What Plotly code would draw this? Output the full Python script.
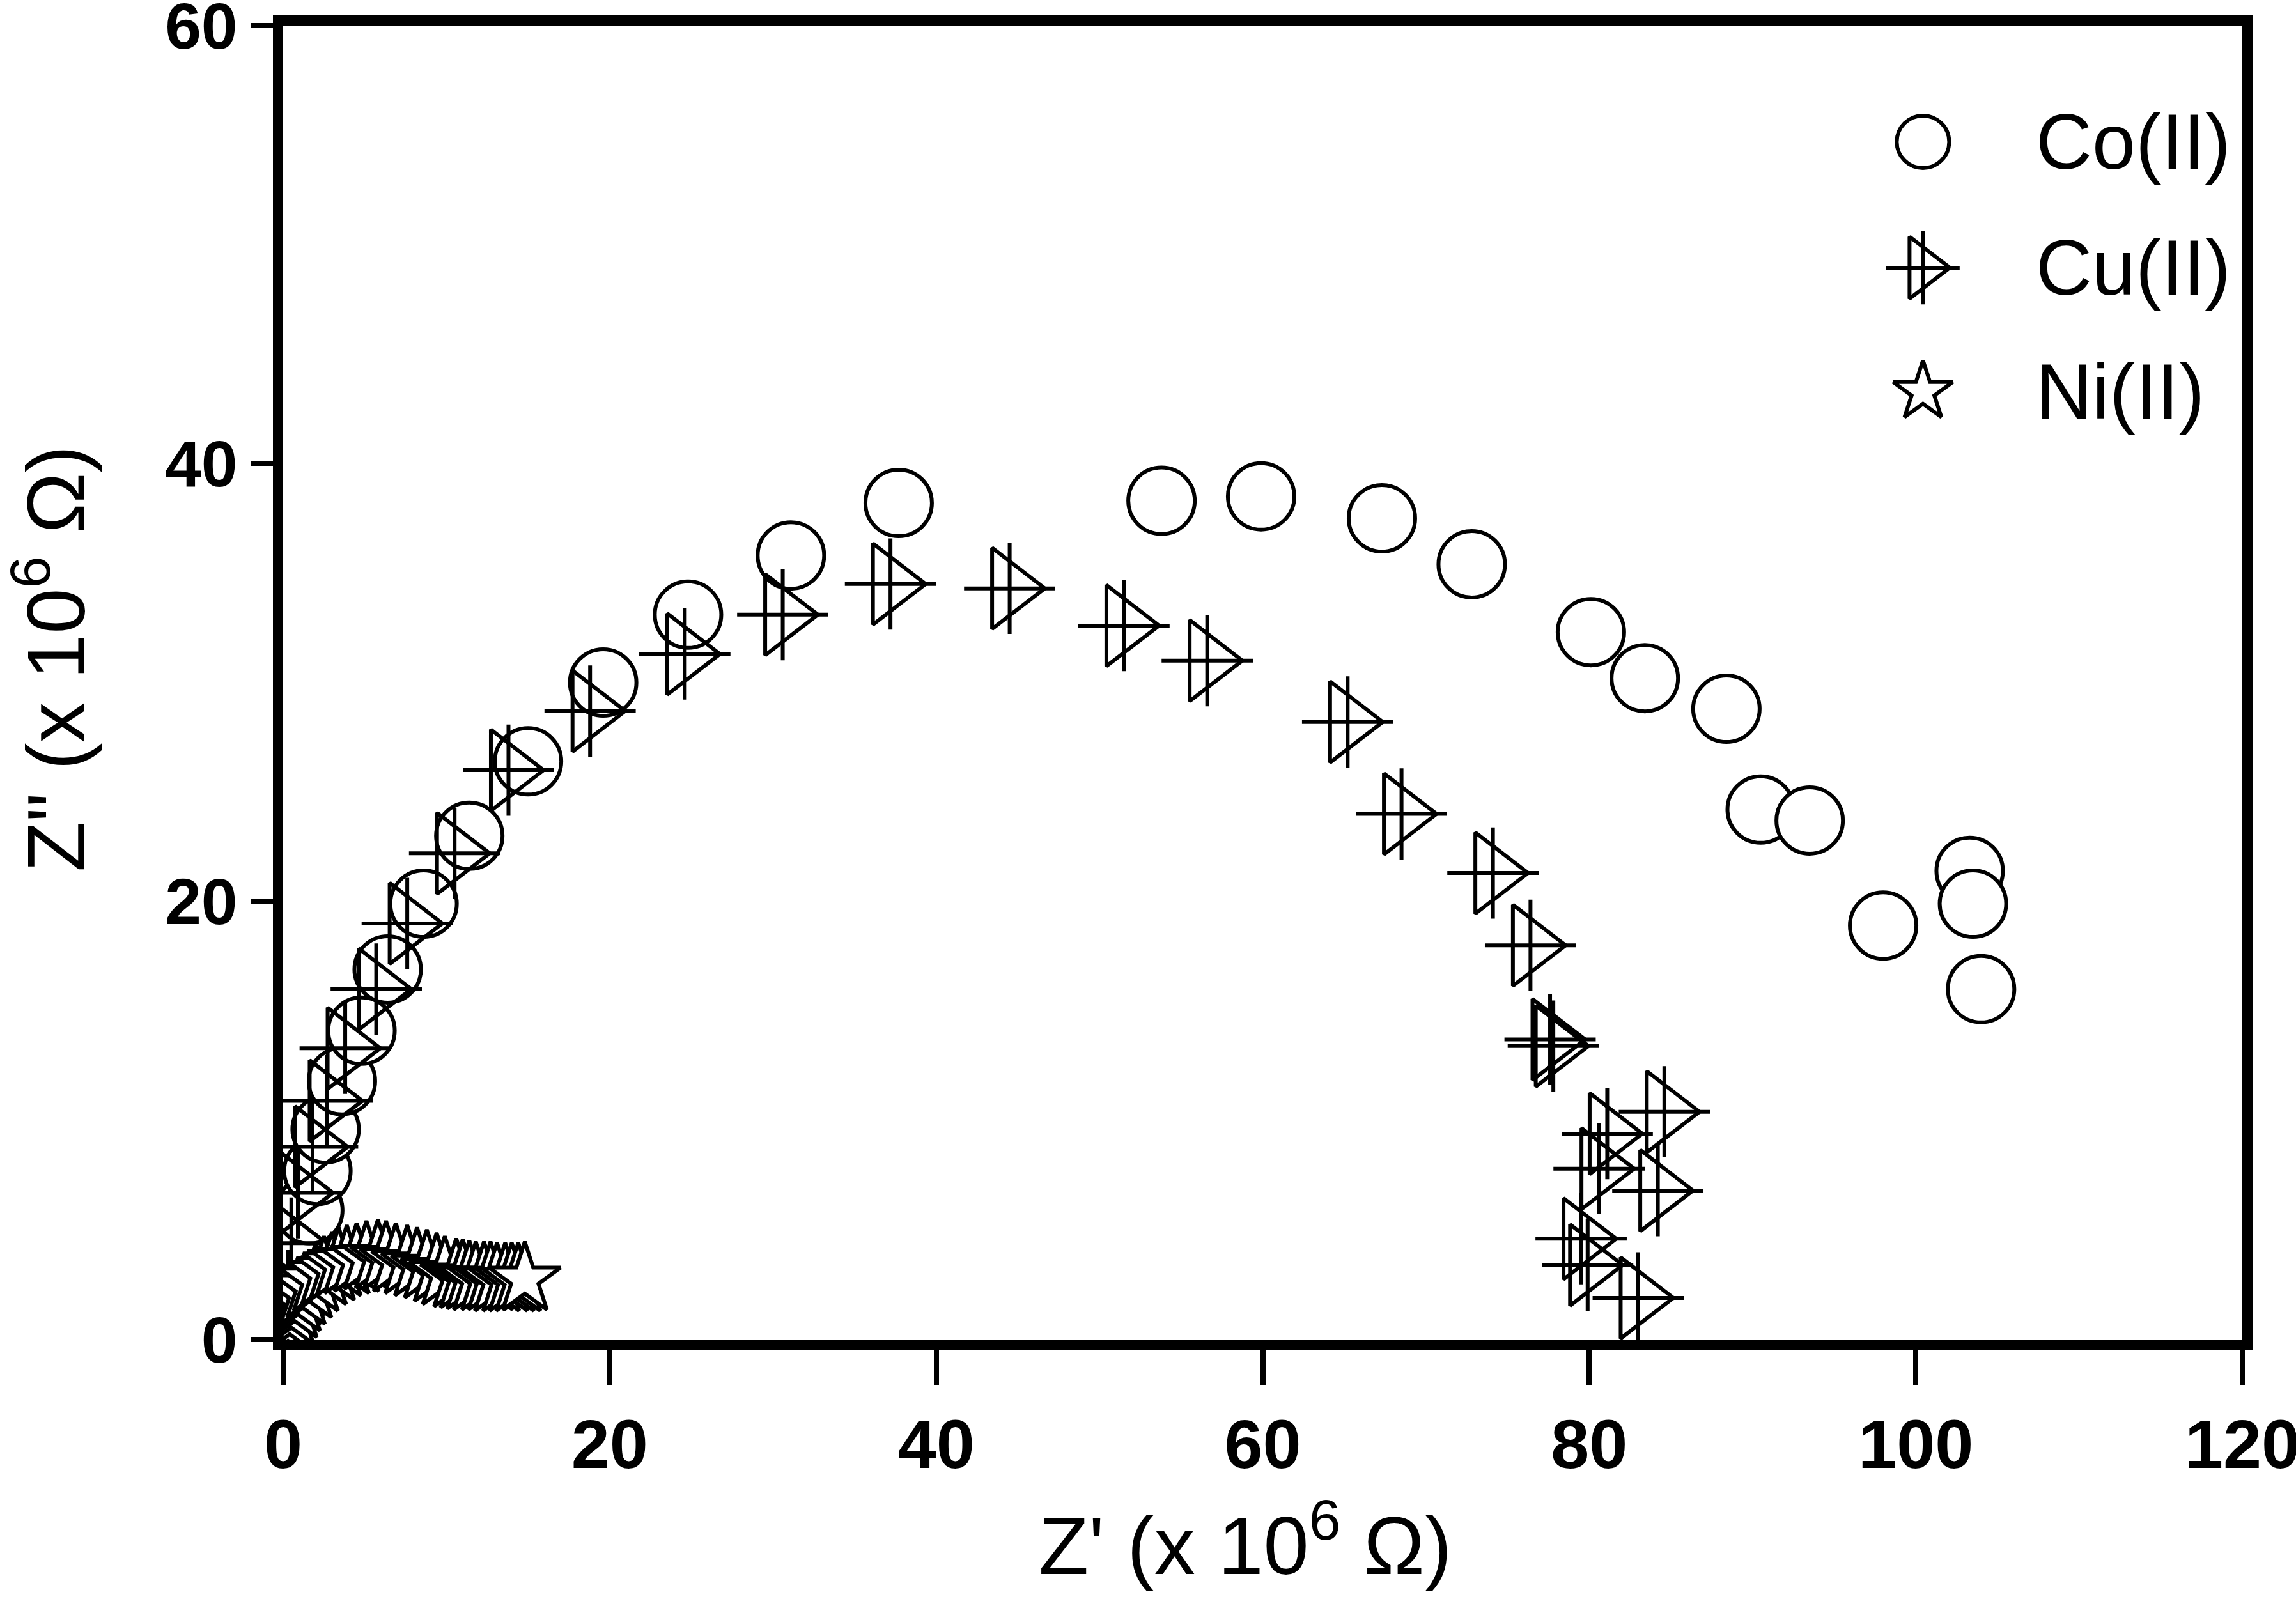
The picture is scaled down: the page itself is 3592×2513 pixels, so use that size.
import plotly.graph_objects as go

# ---- data (Z' , Z'' in 10^6 ohm) ----
co_x = [1.2, 1.6, 2.1, 2.6, 3.6, 4.8, 6.4, 8.6, 11.4, 15.0, 19.6, 24.8, 31.1, 37.7,
        53.8, 59.9, 67.3, 72.8, 80.1, 83.4, 88.4, 90.5, 93.5, 98.0, 103.3, 103.5, 104.0]
co_y = [4.4, 5.9, 7.7, 9.6, 11.8, 14.1, 16.9, 19.9, 23.0, 26.4, 30.0, 33.1, 35.8, 38.2,
        38.3, 38.5, 37.5, 35.4, 32.3, 30.2, 28.8, 24.2, 23.7, 18.9, 21.4, 19.9, 16.0]

cu_x = [0.3, 0.5, 0.9, 1.8, 2.7, 3.8, 5.7, 7.6, 10.5, 13.8, 18.8, 24.6, 30.6, 37.2,
        44.5, 51.5, 56.6, 65.2, 68.5, 74.1, 76.4, 77.6, 77.8, 81.1, 84.6, 80.6, 84.2,
        79.5, 79.9, 83.0]
cu_y = [2.0, 4.4, 6.7, 8.8, 10.9, 13.3, 16.0, 19.0, 22.2, 26.0, 28.7, 31.3, 33.1, 34.5,
        34.3, 32.6, 31.0, 28.2, 24.0, 21.3, 18.0, 13.7, 13.4, 9.4, 10.4, 7.8, 6.8,
        4.6, 3.4, 1.9]

ni_x = [0.2, 0.3, 0.4, 0.5, 0.7, 0.9, 1.2, 1.6, 2.0, 2.5, 3.0, 3.4, 3.9, 4.5, 5.1,
        5.8, 6.3, 6.9, 7.6, 8.2, 8.8, 9.4, 9.9, 10.6, 11.0, 11.4, 11.8, 12.3, 12.7,
        13.1, 13.6, 14.0, 14.4, 14.8]
ni_y = [0.3, 0.6, 0.9, 1.2, 1.5, 1.8, 2.1, 2.4, 2.7, 3.0, 3.2, 3.4, 3.5, 3.6, 3.7,
        3.75, 3.7, 3.6, 3.5, 3.4, 3.3, 3.15, 3.0, 2.9, 2.85, 2.8, 2.75, 2.75, 2.75,
        2.7, 2.7, 2.7, 2.7, 2.75]

series_names = ["Co(II)", "Cu(II)", "Ni(II)"]
x_ticks = [0, 20, 40, 60, 80, 100, 120]
y_ticks = [0, 20, 40, 60]

SANS = "Liberation Sans, Arial, sans-serif"
LW = 6

fig = go.Figure()

fig.add_trace(go.Scatter(x=co_x, y=co_y, mode="markers", name=series_names[0],
                         marker=dict(symbol="circle", size=104, color="white",
                                     line=dict(color="black", width=LW))))
fig.add_trace(go.Scatter(x=cu_x, y=cu_y, mode="markers", name=series_names[1],
                         marker=dict(symbol="triangle-right-open", size=110, color="black",
                                     line=dict(color="black", width=LW))))
fig.add_trace(go.Scatter(x=cu_x, y=cu_y, mode="markers", name=series_names[1], showlegend=False,
                         marker=dict(symbol="cross-thin-open", size=102, color="black",
                                     line=dict(color="black", width=LW))))
fig.add_trace(go.Scatter(x=ni_x, y=ni_y, mode="markers", name=series_names[2],
                         marker=dict(symbol="star", size=84, color="white",
                                     line=dict(color="black", width=LW))))

# ---- legend (keys on an overlay axis, positions as fractions of the plot area) ----
LEG_X = 0.837
LEG_ROWS = [0.9115, 0.8157, 0.7213]
LEG_TEXT_X = 0.894
fig.add_trace(go.Scatter(x=[LEG_X], y=[LEG_ROWS[0]], xaxis="x2", yaxis="y2", mode="markers",
                         showlegend=False, hoverinfo="skip",
                         marker=dict(symbol="circle", size=82, color="white",
                                     line=dict(color="black", width=LW))))
fig.add_trace(go.Scatter(x=[LEG_X], y=[LEG_ROWS[1]], xaxis="x2", yaxis="y2", mode="markers",
                         showlegend=False, hoverinfo="skip",
                         marker=dict(symbol="triangle-right-open", size=84, color="black",
                                     line=dict(color="black", width=LW))))
fig.add_trace(go.Scatter(x=[LEG_X], y=[LEG_ROWS[1]], xaxis="x2", yaxis="y2", mode="markers",
                         showlegend=False, hoverinfo="skip",
                         marker=dict(symbol="cross-thin-open", size=82, color="black",
                                     line=dict(color="black", width=LW))))
fig.add_trace(go.Scatter(x=[LEG_X], y=[LEG_ROWS[2]], xaxis="x2", yaxis="y2", mode="markers",
                         showlegend=False, hoverinfo="skip",
                         marker=dict(symbol="star", size=70, color="white",
                                     line=dict(color="black", width=LW))))

annotations = []
for name, yr in zip(series_names, LEG_ROWS):
    annotations.append(dict(text=name, x=LEG_TEXT_X, y=yr, xref="paper", yref="paper",
                            xanchor="left", yanchor="middle", showarrow=False,
                            font=dict(family=SANS, size=122, color="black")))
annotations.append(dict(text="Z' (x 10<sup>6</sup> Ω)", x=0.491, y=-0.152, xref="paper", yref="paper",
                        xanchor="center", yanchor="middle", showarrow=False,
                        font=dict(family=SANS, size=128, color="black")))
annotations.append(dict(text='Z" (x 10<sup>6</sup> Ω)', x=-0.119, y=0.518, xref="paper", yref="paper",
                        xanchor="center", yanchor="middle", showarrow=False, textangle=-90,
                        font=dict(family=SANS, size=128, color="black")))

axis_common = dict(showline=True, linewidth=16, linecolor="black", mirror=True,
                   ticks="outside", tickwidth=8, tickcolor="black", automargin=False,
                   showgrid=False, zeroline=False, ticklabeloverflow="allow")

fig.update_layout(
    width=3592, height=2513,
    margin=dict(l=443, r=84, t=40, b=417, autoexpand=False),
    paper_bgcolor="white", plot_bgcolor="white",
    showlegend=False,
    xaxis=dict(range=[0, 120], tickvals=x_ticks, ticklen=55,
               tickfont=dict(family=SANS, size=108, color="black", weight="bold"),
               **axis_common),
    yaxis=dict(range=[0, 60], tickvals=y_ticks, ticklen=35,
               tickfont=dict(family=SANS, size=102, color="black", weight="bold"),
               **axis_common),
    xaxis2=dict(overlaying="x", range=[0, 1], visible=False, anchor="y2"),
    yaxis2=dict(overlaying="y", range=[0, 1], visible=False, anchor="x2"),
    annotations=annotations,
)

fig.write_html("out.html")
